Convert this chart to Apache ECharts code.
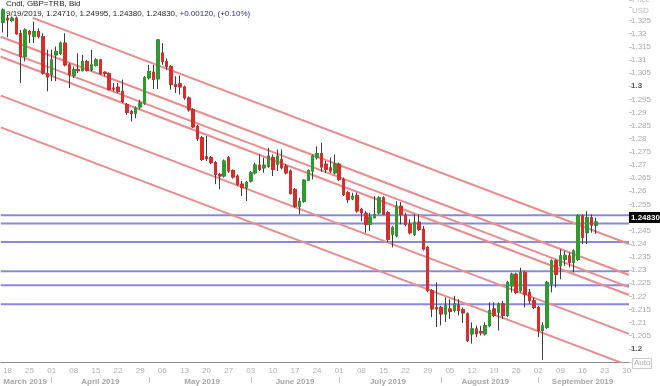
<!DOCTYPE html>
<html><head><meta charset="utf-8">
<script src="https://cdn.jsdelivr.net/npm/echarts@6/dist/echarts.min.js"></script>
<style>html,body{margin:0;padding:0;background:#fff}#c{width:660px;height:386px}</style>
</head><body><div id="c"></div>
<script>
// ---- categories (trading days, incl. empty days to the axis end) ----
const dates = [
'2019-03-15','2019-03-18','2019-03-19','2019-03-20','2019-03-21','2019-03-22','2019-03-25','2019-03-26','2019-03-27','2019-03-28','2019-03-29',
'2019-04-01','2019-04-02','2019-04-03','2019-04-04','2019-04-05','2019-04-08','2019-04-09','2019-04-10','2019-04-11','2019-04-12',
'2019-04-15','2019-04-16','2019-04-17','2019-04-18','2019-04-19','2019-04-22','2019-04-23','2019-04-24','2019-04-25','2019-04-26','2019-04-29','2019-04-30',
'2019-05-01','2019-05-02','2019-05-03','2019-05-06','2019-05-07','2019-05-08','2019-05-09','2019-05-10','2019-05-13','2019-05-14','2019-05-15','2019-05-16','2019-05-17',
'2019-05-20','2019-05-21','2019-05-22','2019-05-23','2019-05-24','2019-05-27','2019-05-28','2019-05-29','2019-05-30','2019-05-31',
'2019-06-03','2019-06-04','2019-06-05','2019-06-06','2019-06-07','2019-06-10','2019-06-11','2019-06-12','2019-06-13','2019-06-14',
'2019-06-17','2019-06-18','2019-06-19','2019-06-20','2019-06-21','2019-06-24','2019-06-25','2019-06-26','2019-06-27','2019-06-28',
'2019-07-01','2019-07-02','2019-07-03','2019-07-04','2019-07-05','2019-07-08','2019-07-09','2019-07-10','2019-07-11','2019-07-12',
'2019-07-15','2019-07-16','2019-07-17','2019-07-18','2019-07-19','2019-07-22','2019-07-23','2019-07-24','2019-07-25','2019-07-26','2019-07-29','2019-07-30','2019-07-31',
'2019-08-01','2019-08-02','2019-08-05','2019-08-06','2019-08-07','2019-08-08','2019-08-09','2019-08-12','2019-08-13','2019-08-14','2019-08-15','2019-08-16',
'2019-08-19','2019-08-20','2019-08-21','2019-08-22','2019-08-23','2019-08-26','2019-08-27','2019-08-28','2019-08-29','2019-08-30',
'2019-09-02','2019-09-03','2019-09-04','2019-09-05','2019-09-06','2019-09-09','2019-09-10','2019-09-11','2019-09-12','2019-09-13',
'2019-09-16','2019-09-17','2019-09-18','2019-09-19','2019-09-20','2019-09-23','2019-09-24','2019-09-25','2019-09-26','2019-09-27','2019-09-30'];

// ---- OHLC (GBP=TRB, bid) ----
const open = [1.3242,1.3259,1.3250,1.3259,1.3201,1.3113,1.3208,1.3189,1.3208,1.3189,1.3048,
1.3044,1.3119,1.3125,1.3164,1.3081,1.3041,1.3063,1.3059,1.3094,1.3063,
1.3079,1.3100,1.3053,1.3048,1.2993,1.2996,1.2980,1.2929,1.2903,1.2897,1.2921,1.2936,
1.3032,1.3053,1.3028,1.3126,1.3094,1.3075,1.3006,1.3009,1.2997,1.2955,1.2910,1.2847,1.2804,
1.2731,1.2728,1.2709,1.2664,1.2658,1.2728,1.2679,1.2658,1.2627,1.2614,
1.2639,1.2670,1.2699,1.2689,1.2695,1.2728,1.2703,1.2721,1.2695,1.2677,
1.2607,1.2543,1.2562,1.2642,1.2677,1.2728,1.2743,1.2703,1.2689,1.2670,
1.2703,1.2645,1.2594,1.2571,1.2584,1.2531,1.2516,1.2474,1.2499,1.2518,
1.2575,1.2518,1.2436,1.2430,1.2543,1.2509,1.2474,1.2436,1.2482,1.2455,1.2386,1.2222,1.2158,
1.2158,1.2133,1.2152,1.2146,1.2167,1.2149,1.2133,1.2057,1.2076,1.2066,1.2057,1.2088,
1.2152,1.2139,1.2171,1.2127,1.2240,1.2284,1.2222,1.2290,1.2215,1.2183,
1.2158,1.2070,1.2082,1.2247,1.2335,1.2316,1.2341,1.2354,1.2329,1.2341,
1.2506,1.2442,1.2499,1.24710];
const high = [1.3296,1.3271,1.3265,1.3265,1.3214,1.3220,1.3214,1.3245,1.3220,1.3201,1.3139,
1.3139,1.3151,1.3170,1.3201,1.3088,1.3075,1.3125,1.3119,1.3100,1.3138,
1.3106,1.3103,1.3056,1.3053,1.3012,1.3012,1.3025,1.2936,1.2910,1.2923,1.2948,1.3038,
1.3081,1.3081,1.3179,1.3164,1.3106,1.3081,1.3038,1.3041,1.3002,1.2961,1.2916,1.2853,1.2810,
1.2810,1.2734,1.2715,1.2670,1.2721,1.2734,1.2683,1.2664,1.2639,1.2639,
1.2677,1.2709,1.2740,1.2728,1.2765,1.2740,1.2759,1.2759,1.2703,1.2683,
1.2613,1.2575,1.2645,1.2683,1.2740,1.2771,1.2784,1.2715,1.2728,1.2740,
1.2709,1.2652,1.2601,1.2594,1.2594,1.2537,1.2525,1.2518,1.2581,1.2581,
1.2581,1.2525,1.2468,1.2562,1.2559,1.2518,1.2493,1.2512,1.2512,1.2468,1.2392,1.2228,1.2253,
1.2164,1.2196,1.2189,1.2202,1.2189,1.2158,1.2139,1.2101,1.2088,1.2088,1.2101,1.2177,
1.2177,1.2177,1.2183,1.2259,1.2290,1.2290,1.2309,1.2297,1.2228,1.2196,
1.2164,1.2101,1.2259,1.2341,1.2341,1.2379,1.2373,1.2366,1.2379,1.2512,
1.2512,1.2524,1.2512,1.24995];
const low = [1.3204,1.3186,1.3245,1.3196,1.3012,1.3094,1.3164,1.3164,1.3182,1.3044,1.2980,
1.3019,1.3019,1.3119,1.3075,1.2993,1.3031,1.3050,1.3056,1.3056,1.3056,
1.3075,1.3044,1.3038,1.2984,1.2980,1.2974,1.2936,1.2891,1.2866,1.2878,1.2911,1.2929,
1.3025,1.2989,1.2989,1.3081,1.3063,1.2987,1.2974,1.2968,1.2948,1.2903,1.2841,1.2791,1.2715,
1.2715,1.2703,1.2627,1.2608,1.2652,1.2670,1.2648,1.2620,1.2582,1.2563,
1.2633,1.2664,1.2677,1.2670,1.2689,1.2658,1.2677,1.2683,1.2664,1.2588,
1.2537,1.2512,1.2556,1.2639,1.2645,1.2721,1.2674,1.2670,1.2670,1.2664,
1.2639,1.2582,1.2556,1.2566,1.2518,1.2486,1.2442,1.2449,1.2499,1.2512,
1.2510,1.2405,1.2386,1.2424,1.2474,1.2467,1.2436,1.2430,1.2449,1.2374,1.2215,1.2121,1.2083,
1.2089,1.2102,1.2114,1.2139,1.2127,1.2099,1.2026,1.2020,1.2045,1.2051,1.2051,1.2082,
1.2121,1.2070,1.2114,1.2121,1.2215,1.2208,1.2215,1.2158,1.2171,1.2152,
1.2045,1.1958,1.2076,1.2215,1.2234,1.2265,1.2316,1.2310,1.2291,1.2335,
1.2399,1.2399,1.2442,1.24380];
const close = [1.3290,1.3252,1.3259,1.3199,1.3113,1.3214,1.3198,1.3208,1.3189,1.3050,1.3035,
1.3100,1.3132,1.3164,1.3081,1.3044,1.3063,1.3059,1.3094,1.3060,1.3081,
1.3100,1.3048,1.3048,1.2987,1.2989,1.2980,1.2942,1.2900,1.2897,1.2917,1.2936,1.3032,
1.3056,1.3025,1.3176,1.3094,1.3075,1.3006,1.2999,1.2997,1.2955,1.2910,1.2845,1.2800,1.2721,
1.2724,1.2709,1.2664,1.2658,1.2715,1.2677,1.2654,1.2627,1.2614,1.2633,
1.2670,1.2700,1.2683,1.2699,1.2734,1.2683,1.2734,1.2689,1.2670,1.2591,
1.2543,1.2562,1.2642,1.2679,1.2734,1.2743,1.2692,1.2683,1.2677,1.2703,
1.2645,1.2588,1.2568,1.2581,1.2525,1.2518,1.2474,1.2502,1.2512,1.2575,
1.2512,1.2417,1.2461,1.2543,1.2512,1.2474,1.2442,1.2482,1.2455,1.2380,1.2222,1.2152,1.2152,
1.2133,1.2164,1.2143,1.2171,1.2146,1.2137,1.2032,1.2076,1.2057,1.2061,1.2088,1.2146,
1.2127,1.2171,1.2127,1.2253,1.2284,1.2215,1.2290,1.2208,1.2183,1.2158,
1.2070,1.2088,1.2253,1.2335,1.2284,1.2354,1.2356,1.2329,1.2373,1.2506,
1.2424,1.2499,1.2471,1.24830];

// ---- drawn levels (horizontal support/resistance) ----
const levels = [1.2509, 1.2477, 1.2407, 1.2295, 1.2242, 1.2170];
// ---- channel lines: start/end in (category index, price) ----
const trendStartIdx = [6.72, -0.5, -0.5, -0.5, -0.5, -0.5];
const trendStartPx  = [1.3260, 1.3188, 1.3142, 1.3112, 1.2964, 1.2843];
const trendEndIdx   = [141.5, 141.5, 141.5, 141.5, 141.5, 141.5];
const trendEndPx    = [1.2399, 1.2281, 1.2235, 1.2205, 1.2057, 1.1936];

const monthNames = {'03':'March 2019','04':'April 2019','05':'May 2019','06':'June 2019','07':'July 2019','08':'August 2019','09':'September 2019'};
const monthLabelDates = ['2019-03-22','2019-04-16','2019-05-17','2019-06-17','2019-07-16','2019-08-15','2019-09-16'];
const monthStartDates = ['2019-04-01','2019-05-01','2019-06-03','2019-07-01','2019-08-01','2019-09-02'];

const UP = '#2f9a2f', DN = '#dc2b2b', WICK = '#3c3c3c';
const RED_LINE = '#ea8c8c', BLUE_LINE = '#8888e4';
const FONT = 'Liberation Sans';

const isMonday = v => new Date(v + 'T00:00:00Z').getUTCDay() === 1;
const ohlc = open.map((o, i) => [o, close[i], low[i], high[i]]);
const bodies = open.map((o, i) => [o, close[i], Math.min(o, close[i]), Math.max(o, close[i])]);
const axisStart = -0.5, axisEnd = dates.length - 0.5;
const last = close.length - 1;

const series = [];
levels.forEach(v => series.push({
  type: 'line', xAxisIndex: 2, yAxisIndex: 0, data: [[axisStart, v], [axisEnd, v]],
  symbol: 'none', silent: true, z: 1, lineStyle: {color: BLUE_LINE, width: 2}
}));
trendStartIdx.forEach((s, k) => series.push({
  type: 'line', xAxisIndex: 2, yAxisIndex: 0, data: [[s, trendStartPx[k]], [trendEndIdx[k], trendEndPx[k]]],
  symbol: 'none', silent: true, z: 1, lineStyle: {color: RED_LINE, width: 2}
}));
series.push({
  type: 'candlestick', xAxisIndex: 0, yAxisIndex: 0, data: ohlc, barWidth: 3, z: 3,
  itemStyle: {color: UP, color0: DN, borderColor: WICK, borderColor0: WICK, borderWidth: 1}
});
series.push({
  type: 'candlestick', xAxisIndex: 0, yAxisIndex: 0, data: bodies, barWidth: 3, z: 4,
  itemStyle: {color: UP, color0: DN, borderColor: UP, borderColor0: DN, borderWidth: 1},
  markLine: {
    symbol: 'none', silent: true, animation: false,
    data: [{yAxis: close[last]}],
    lineStyle: {color: 'rgba(0,0,0,0)', width: 0},
    label: {show: true, position: 'end', formatter: close[last].toFixed(5), backgroundColor: '#000', color: '#fff',
      fontWeight: 'bold', fontSize: 8, fontFamily: FONT, padding: [2, 2, 1, 2], distance: 0, opacity: 1}
  }
});

const d = dates[last].split('-');
const chg = close[last] - close[last - 1];
const legendMain = `${+d[1]}/${+d[2]}/${d[0]}, ${open[last].toFixed(5)}, ${high[last].toFixed(5)}, ${low[last].toFixed(5)}, ${close[last].toFixed(5)}, `;
const legendChg = `+${chg.toFixed(5)}, (+${(chg / close[last - 1] * 100).toFixed(2)}%)`;

const chart = echarts.init(document.getElementById('c'), null, {renderer: 'canvas'});
chart.setOption({
  animation: false,
  backgroundColor: '#fff',
  grid: {left: 0, top: 0, width: 629, height: 363, containLabel: false},
  xAxis: [
    {type: 'category', data: dates, boundaryGap: true,
      axisLine: {onZero: false, lineStyle: {color: '#8c8c8c'}},
      axisTick: {alignWithLabel: true, interval: (i, v) => isMonday(v), length: 3, lineStyle: {color: '#c8c8c8'}},
      axisLabel: {interval: (i, v) => isMonday(v), formatter: v => v.slice(8), fontSize: 8, fontFamily: FONT, color: '#b0b0b0', margin: 5},
      splitLine: {show: false}},
    {type: 'category', data: dates, boundaryGap: true, position: 'bottom', offset: 15,
      axisLine: {show: false, onZero: false},
      axisTick: {show: true, alignWithLabel: true, interval: (i, v) => monthStartDates.includes(v), length: 6, lineStyle: {color: '#c0c0c0'}},
      axisLabel: {interval: (i, v) => monthLabelDates.includes(v), formatter: v => monthNames[v.slice(5, 7)], fontSize: 8, fontFamily: FONT, fontWeight: 'bold', color: '#a6a6a6', margin: 1},
      splitLine: {show: false}},
    {type: 'value', min: axisStart, max: axisEnd, show: false, axisLine: {onZero: false}}
  ],
  yAxis: {
    type: 'value', position: 'right', min: 1.195, max: 1.3328, interval: 0.005,
    axisLine: {show: false, onZero: false}, splitLine: {show: false},
    axisTick: {show: true, length: 3, lineStyle: {color: '#c8c8c8'}},
    axisLabel: {
      margin: 2, fontSize: 8, fontFamily: FONT, color: '#a8a8a8',
      formatter: v => {
        const r = Math.round(v * 1000) / 1000;
        if (r < 1.2 || r > 1.325) return '';
        if (Math.abs(r * 10 - Math.round(r * 10)) < 1e-9) return '{b|' + r + '}';
        return String(r);
      },
      rich: {b: {fontWeight: 'bold', color: '#555', fontSize: 8, fontFamily: FONT}}
    }
  },
  series: series,
  graphic: [
    {type: 'text', left: 6, top: 0, z: 100, style: {text: 'Cndl, GBP=TRB, Bid', font: '8px "Liberation Sans"', fill: '#222'}},
    {type: 'text', left: 6, top: 10, z: 100, style: {
      text: '{a|' + legendMain + '}{c|' + legendChg + '}',
      rich: {a: {font: '8px "Liberation Sans"', fill: '#222', color: '#222'}, c: {font: '8px "Liberation Sans"', color: '#2c2c8c', fill: '#2c2c8c'}}}},
    {type: 'text', left: 632, top: -4, z: 100, style: {text: 'Price', font: '8px "Liberation Sans"', fill: '#bbb'}},
    {type: 'text', left: 632, top: 7, z: 100, style: {text: 'USD', font: '8px "Liberation Sans"', fill: '#bbb'}},
    {type: 'rect', left: 632, top: 358, z: 100, shape: {width: 19, height: 10}, style: {fill: '#fff', stroke: '#ccc', lineWidth: 1}},
    {type: 'text', left: 634, top: 359, z: 101, style: {text: 'Auto', font: '8px "Liberation Sans"', fill: '#aaa'}}
  ]
});
</script></body></html>
